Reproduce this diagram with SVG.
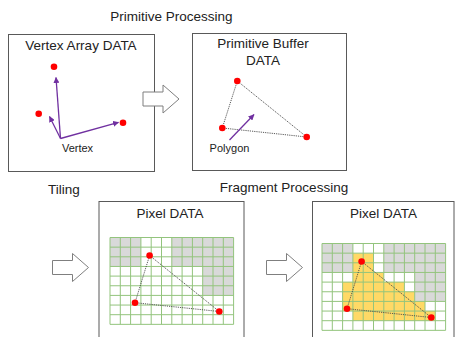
<svg xmlns="http://www.w3.org/2000/svg" width="455" height="337" viewBox="0 0 455 337">
  <style>
    .panel { fill: #ffffff; stroke: #595959; stroke-width: 1; }
    .title { font-family: "Liberation Sans", Arial, sans-serif; font-size: 13.5px; fill: #222222; }
    .label { font-family: "Liberation Sans", Arial, sans-serif; font-size: 11px; fill: #222222; }
    .vtx { fill: #ff0000; }
    .vec { stroke: #7030a0; stroke-width: 1.3; fill: none; marker-end: url(#head); }
    .edge { stroke: #474747; stroke-width: 0.9; stroke-dasharray: 1.2 1; fill: none; }
    .block { fill: #ffffff; stroke: #7f7f7f; stroke-width: 1; }
    .gridline { stroke: #93c47d; stroke-width: 1; fill: none; }
    .masked { fill: #d9d9d9; }
    .covered { fill: #ffd966; }
  </style>
  <defs>
    <marker id="head" viewBox="0 0 6 6" refX="5.5" refY="3" markerWidth="6" markerHeight="6" markerUnits="userSpaceOnUse" orient="auto">
      <path d="M0,0 L6,3 L0,6 Z" fill="#7030a0"/>
    </marker>
    <!-- block arrow between stages -->
    <path id="stepArrow" d="M0,7 H20 V0 L36,14 L20,28 V21 H0 Z"/>
    <!-- 12 x 9 pixel grid, cell 10.3 x 9.65 -->
    <path id="gridLines" d="M0,0 V86.85 M10.3,0 V86.85 M20.6,0 V86.85 M30.9,0 V86.85 M41.2,0 V86.85 M51.5,0 V86.85 M61.8,0 V86.85 M72.1,0 V86.85 M82.4,0 V86.85 M92.7,0 V86.85 M103,0 V86.85 M113.3,0 V86.85 M123.6,0 V86.85 M0,0 H123.6 M0,9.65 H123.6 M0,19.3 H123.6 M0,28.95 H123.6 M0,38.6 H123.6 M0,48.25 H123.6 M0,57.9 H123.6 M0,67.55 H123.6 M0,77.2 H123.6 M0,86.85 H123.6"/>
    <g id="maskedCells">
      <rect x="0" y="0" width="30.9" height="28.95"/>
      <rect x="61.8" y="0" width="61.8" height="28.95"/>
      <rect x="92.7" y="28.95" width="30.9" height="28.95"/>
    </g>
    <g id="pixelTriangle">
      <polygon class="edge" points="39.6,18 25,65.2 109.3,74"/>
      <circle class="vtx" cx="39.6" cy="18" r="3.3"/>
      <circle class="vtx" cx="25" cy="65.2" r="3.3"/>
      <circle class="vtx" cx="109.3" cy="74" r="3.3"/>
    </g>
  </defs>

  <!-- stage captions -->
  <g id="captions">
    <text class="title" x="171.5" y="21" text-anchor="middle">Primitive Processing</text>
    <text class="title" x="48" y="194">Tiling</text>
    <text class="title" x="284" y="192" text-anchor="middle">Fragment Processing</text>
  </g>

  <g id="vertex-array">
    <rect class="panel" x="8.5" y="34.5" width="146" height="137"/>
    <text class="title" x="81" y="49.5" text-anchor="middle">Vertex Array DATA</text>
    <line class="vec" x1="60.5" y1="138.5" x2="56" y2="77.5"/>
    <line class="vec" x1="60.5" y1="138.5" x2="49.5" y2="116.5"/>
    <line class="vec" x1="60.5" y1="138.5" x2="118.5" y2="122.3"/>
    <circle class="vtx" cx="54" cy="66.7" r="3.3"/>
    <circle class="vtx" cx="38.7" cy="113.7" r="3.3"/>
    <circle class="vtx" cx="123" cy="122.7" r="3.3"/>
    <text class="label" x="77.5" y="152" text-anchor="middle">Vertex</text>
  </g>

  <g id="primitive-buffer">
    <rect class="panel" x="192.5" y="33.5" width="154" height="137"/>
    <text class="title" x="263" y="48" text-anchor="middle">Primitive Buffer</text>
    <text class="title" x="263" y="64.5" text-anchor="middle">DATA</text>
    <polygon class="edge" points="237.3,81 222.3,128 306.7,137"/>
    <line class="vec" x1="229.5" y1="140" x2="254" y2="114.5"/>
    <circle class="vtx" cx="237.3" cy="81" r="3.3"/>
    <circle class="vtx" cx="222.3" cy="128" r="3.3"/>
    <circle class="vtx" cx="306.7" cy="137" r="3.3"/>
    <text class="label" x="229.5" y="152" text-anchor="middle">Polygon</text>
  </g>

  <g id="tiled-pixels">
    <rect class="panel" x="99" y="201.5" width="145" height="150"/>
    <text class="title" x="170" y="217.5" text-anchor="middle">Pixel DATA</text>
    <g transform="translate(110,237.5)">
      <use href="#maskedCells" class="masked"/>
      <use href="#gridLines" class="gridline"/>
      <use href="#pixelTriangle"/>
    </g>
  </g>

  <g id="shaded-pixels">
    <rect class="panel" x="312.5" y="201.5" width="141.5" height="150"/>
    <text class="title" x="383.5" y="217.5" text-anchor="middle">Pixel DATA</text>
    <g transform="translate(322,243.5)">
      <use href="#maskedCells" class="masked"/>
      <polygon class="covered" points="30.9,9.65 51.5,9.65 51.5,28.95 61.8,28.95 61.8,38.6 82.4,38.6 82.4,48.25 92.7,48.25 92.7,57.9 103,57.9 103,67.55 113.3,67.55 113.3,77.2 30.9,77.2 30.9,67.55 20.6,67.55 20.6,38.6 30.9,38.6"/>
      <use href="#gridLines" class="gridline"/>
      <use href="#pixelTriangle"/>
    </g>
  </g>

  <g id="connectors">
    <use href="#stepArrow" class="block" transform="translate(143,85)"/>
    <use href="#stepArrow" class="block" transform="translate(52.5,253.5)"/>
    <use href="#stepArrow" class="block" transform="translate(266.5,253.5)"/>
  </g>
</svg>
